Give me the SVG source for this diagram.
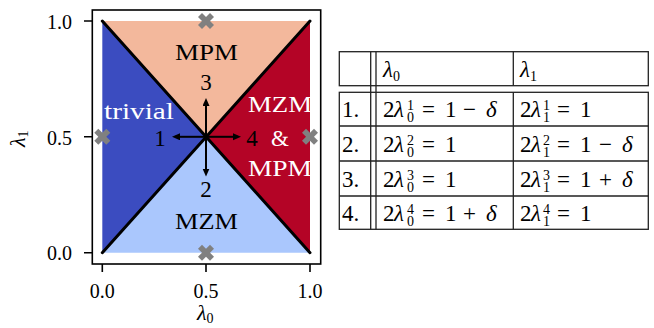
<svg xmlns="http://www.w3.org/2000/svg" width="654" height="328" viewBox="0 0 654 328">
<style>
text{font-family:"Liberation Serif","DejaVu Serif",serif;fill:#000}
.tick{font-size:20px}
.lab{font-size:23px}
.w{fill:#fff}
.it{font-style:italic}
.sm{font-size:14px}
.tb{font-size:23px}
.tl{stroke:#222;stroke-width:1.3;fill:none}
.ax{stroke:#000;stroke-width:1.6;fill:none}
.diag{stroke:#000;stroke-width:3;stroke-linecap:round}
.arr{stroke:#000;stroke-width:2;marker-end:url(#ah)}
</style>
<defs>
<marker id="ah" markerUnits="userSpaceOnUse" markerWidth="9" markerHeight="8" refX="5" refY="3.5" orient="auto">
<path d="M0,0 L8,3.5 L0,7 Z" fill="#000"/>
</marker>
<path id="xm" d="M-4,-8 L0,-4 L4,-8 L8,-4 L4,0 L8,4 L4,8 L0,4 L-4,8 L-8,4 L-4,0 L-8,-4 Z" fill="#808080"/>
</defs>
<rect width="654" height="328" fill="#fff"/>

<g id="plot">
<g id="regions">
<polygon points="102.3,21 310,21 206,136.8" fill="#f3b89c"/>
<polygon points="102.3,252.7 310,252.7 206,136.8" fill="#aac7fd"/>
<polygon points="102.3,21 102.3,252.7 206,136.8" fill="#3b4cc0"/>
<polygon points="310,21 310,252.7 206,136.8" fill="#b40426"/>
</g>
<g id="boundaries">
<line class="diag" x1="102.3" y1="21" x2="310" y2="252.7"/>
<line class="diag" x1="102.3" y1="252.7" x2="310" y2="21"/>
</g>
<g id="points">
<use href="#xm" x="206" y="21"/>
<use href="#xm" x="102.3" y="136.8"/>
<use href="#xm" x="310" y="136.8"/>
<use href="#xm" x="206" y="252.7"/>
</g>
<g id="connectors">
<line class="arr" x1="206" y1="136.8" x2="175" y2="136.8"/>
<line class="arr" x1="206" y1="136.8" x2="238" y2="136.8"/>
<line class="arr" x1="206" y1="136.8" x2="206" y2="101"/>
<line class="arr" x1="206" y1="136.8" x2="206" y2="173.5"/>
</g>
<g id="arrow-labels" class="lab" text-anchor="middle">
<text x="160" y="146">1</text>
<text x="206" y="197">2</text>
<text x="206" y="90">3</text>
<text x="252" y="146">4</text>
</g>
<g id="region-labels" class="lab" text-anchor="middle">
<text x="206.5" y="60" textLength="63" lengthAdjust="spacingAndGlyphs">MPM</text>
<text x="206.5" y="229" textLength="63" lengthAdjust="spacingAndGlyphs">MZM</text>
<text class="w" x="139" y="119" textLength="70" lengthAdjust="spacingAndGlyphs">trivial</text>
<text class="w" x="280" y="112" textLength="64" lengthAdjust="spacingAndGlyphs">MZM</text>
<text class="w" x="280" y="146">&amp;</text>
<text class="w" x="280" y="176" textLength="64" lengthAdjust="spacingAndGlyphs">MPM</text>
</g>
<g id="axes">
<rect class="ax" x="92.3" y="10" width="228.4" height="254"/>
<path class="ax" d="M84,21 H92.3 M84,136.8 H92.3 M84,252.7 H92.3 M102.3,264 V272 M206,264 V272 M310,264 V272"/>
<g class="tick" text-anchor="end">
<text x="72" y="29">1.0</text>
<text x="72" y="144.5">0.5</text>
<text x="72" y="260">0.0</text>
</g>
<g class="tick" text-anchor="middle">
<text x="102.3" y="298">0.0</text>
<text x="206" y="298">0.5</text>
<text x="310" y="298">1.0</text>
</g>
<text x="197" y="320" style="font-size:22px" class="it">λ<tspan class="sm" dy="3" style="font-style:normal">0</tspan></text>
<text transform="translate(25,147) rotate(-90)" style="font-size:22px" class="it">λ<tspan class="sm" dy="3" style="font-style:normal">1</tspan></text>
</g>
</g>

<g id="table">
<g id="table-lines">
<rect class="tl" x="339.3" y="51.7" width="309" height="34"/>
<rect class="tl" x="339.3" y="92.3" width="309" height="137"/>
<path class="tl" d="M370.7,51.7 V229.3 M376,51.7 V229.3 M513.3,51.7 V85.7 M513.3,92.3 V229.3 M339.3,126 H648.3 M339.3,161 H648.3 M339.3,196 H648.3"/>
</g>
<g id="header" class="tb">
<text x="383" y="77" class="it">λ<tspan class="sm" dy="4" style="font-style:normal">0</tspan></text>
<text x="520" y="77" class="it">λ<tspan class="sm" dy="4" style="font-style:normal">1</tspan></text>
</g>
<g id="row1" class="tb">
<text x="342" y="117">1.</text>
<text x="383" y="117">2</text><text x="394" y="117" class="it">λ</text><text x="407" y="122" class="sm">0</text><text x="407" y="110" class="sm">1</text><text x="422" y="117">=</text><text x="445" y="117">1</text><text x="463" y="117">−</text><text x="486" y="117" class="it">δ</text>
<text x="520" y="117">2</text><text x="531" y="117" class="it">λ</text><text x="543" y="122" class="sm">1</text><text x="543" y="110" class="sm">1</text><text x="557" y="117">=</text><text x="580" y="117">1</text>
</g>
<g id="row2" class="tb">
<text x="342" y="151.5">2.</text>
<text x="383" y="151.5">2</text><text x="394" y="151.5" class="it">λ</text><text x="407" y="156.5" class="sm">0</text><text x="407" y="144.5" class="sm">2</text><text x="422" y="151.5">=</text><text x="445" y="151.5">1</text>
<text x="520" y="151.5">2</text><text x="531" y="151.5" class="it">λ</text><text x="543" y="156.5" class="sm">1</text><text x="543" y="144.5" class="sm">2</text><text x="557" y="151.5">=</text><text x="580" y="151.5">1</text><text x="599" y="151.5">−</text><text x="622" y="151.5" class="it">δ</text>
</g>
<g id="row3" class="tb">
<text x="342" y="186.5">3.</text>
<text x="383" y="186.5">2</text><text x="394" y="186.5" class="it">λ</text><text x="407" y="191.5" class="sm">0</text><text x="407" y="179.5" class="sm">3</text><text x="422" y="186.5">=</text><text x="445" y="186.5">1</text>
<text x="520" y="186.5">2</text><text x="531" y="186.5" class="it">λ</text><text x="543" y="191.5" class="sm">1</text><text x="543" y="179.5" class="sm">3</text><text x="557" y="186.5">=</text><text x="580" y="186.5">1</text><text x="599" y="186.5">+</text><text x="622" y="186.5" class="it">δ</text>
</g>
<g id="row4" class="tb">
<text x="342" y="220.7">4.</text>
<text x="383" y="220.7">2</text><text x="394" y="220.7" class="it">λ</text><text x="407" y="225.7" class="sm">0</text><text x="407" y="213.7" class="sm">4</text><text x="422" y="220.7">=</text><text x="445" y="220.7">1</text><text x="463" y="220.7">+</text><text x="486" y="220.7" class="it">δ</text>
<text x="520" y="220.7">2</text><text x="531" y="220.7" class="it">λ</text><text x="543" y="225.7" class="sm">1</text><text x="543" y="213.7" class="sm">4</text><text x="557" y="220.7">=</text><text x="580" y="220.7">1</text>
</g>
</g>
</svg>
